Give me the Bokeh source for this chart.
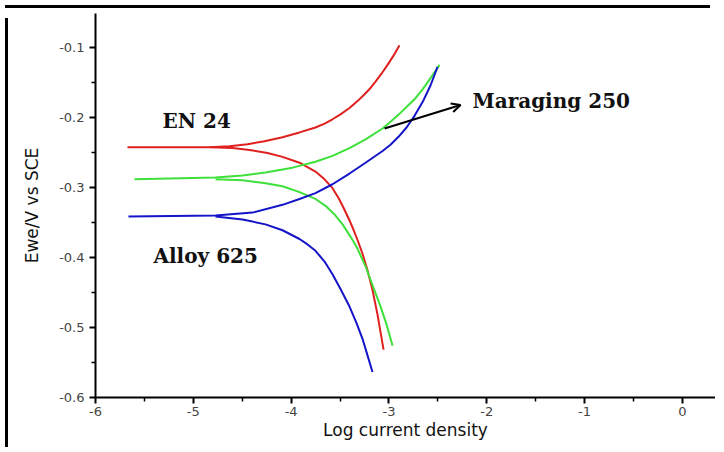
from bokeh.plotting import figure
from bokeh.models import Range1d, FixedTicker, Label, Arrow, OpenHead, CustomJSTickFormatter, Div
from bokeh.layouts import column, row
from bokeh.embed import file_html
from bokeh.resources import INLINE

# ---- data (log current density, potential V vs SCE) ----
en24_anodic_x = [-5.673, -4.834, -4.630, -4.446, -4.272, -4.088, -3.914, -3.751, -3.658, -3.577,
                 -3.495, -3.403, -3.321, -3.249, -3.188, -3.137, -3.076, -3.014, -2.953, -2.892]
en24_anodic_y = [-0.2425, -0.2425, -0.2411, -0.2383, -0.2341, -0.2285, -0.2215, -0.2145, -0.2089, -0.2027,
                 -0.1957, -0.1866, -0.1768, -0.1670, -0.1580, -0.1489, -0.1377, -0.1251, -0.1119, -0.0972]
en24_cathodic_x = [-4.834, -4.599, -4.425, -4.241, -4.088, -3.914, -3.751, -3.658, -3.577, -3.515,
                   -3.464, -3.403, -3.362, -3.321, -3.270, -3.219, -3.168, -3.117, -3.055]
en24_cathodic_y = [-0.2425, -0.2439, -0.2466, -0.2508, -0.2564, -0.2648, -0.2774, -0.2885, -0.3011, -0.3151,
                   -0.3291, -0.3472, -0.3605, -0.3751, -0.3947, -0.4184, -0.4464, -0.4813, -0.5316]

mar_anodic_x = [-5.601, -4.773, -4.497, -4.262, -3.986, -3.751, -3.577, -3.403, -3.239, -3.065,
                -2.984, -2.892, -2.810, -2.728, -2.656, -2.585, -2.524, -2.483]
mar_anodic_y = [-0.2885, -0.2858, -0.2830, -0.2788, -0.2718, -0.2634, -0.2550, -0.2439, -0.2313, -0.2159,
                -0.2061, -0.1950, -0.1838, -0.1726, -0.1601, -0.1461, -0.1335, -0.1251]
mar_cathodic_x = [-4.773, -4.497, -4.262, -4.088, -3.914, -3.751, -3.648, -3.546, -3.474, -3.403,
                  -3.362, -3.321, -3.280, -3.239, -3.168, -3.096, -3.025, -2.963]
mar_cathodic_y = [-0.2885, -0.2899, -0.2941, -0.2983, -0.3067, -0.3165, -0.3263, -0.3402, -0.3528, -0.3682,
                  -0.3772, -0.3877, -0.4003, -0.4128, -0.4394, -0.4659, -0.4953, -0.5260]

al_anodic_x = [-5.663, -4.773, -4.395, -4.088, -3.914, -3.751, -3.577, -3.403, -3.239, -3.065,
               -2.984, -2.902, -2.820, -2.738, -2.656, -2.575, -2.503]
al_anodic_y = [-0.3416, -0.3402, -0.3360, -0.3249, -0.3165, -0.3081, -0.2955, -0.2802, -0.2648, -0.2480,
               -0.2390, -0.2278, -0.2145, -0.1978, -0.1782, -0.1545, -0.1279]
al_cathodic_x = [-4.773, -4.497, -4.262, -4.088, -3.914, -3.832, -3.751, -3.658, -3.577, -3.495,
                 -3.403, -3.331, -3.270, -3.219, -3.168]
al_cathodic_y = [-0.3416, -0.3458, -0.3528, -0.3612, -0.3737, -0.3814, -0.3905, -0.4059, -0.4240, -0.4450,
                 -0.4701, -0.4939, -0.5162, -0.5399, -0.5637]

x_major = [-6, -5, -4, -3, -2, -1, 0]
x_minor = [-5.5, -4.5, -3.5, -2.5, -1.5, -0.5]
y_major = [-0.6, -0.5, -0.4, -0.3, -0.2, -0.1]
y_minor = [-0.55, -0.45, -0.35, -0.25, -0.15]

labels_text = ["EN 24", "Maraging 250", "Alloy 625"]
labels_x = [-5.315, -2.145, -5.407]
labels_y = [-0.2047, -0.1768, -0.3975]

arrow_start = (-3.045, -0.2159)
arrow_end = (-2.268, -0.1824)

RED = "#e0201e"
GREEN = "#3ee03a"
BLUE = "#1414c8"

p = figure(width=702, height=429, output_backend="svg", toolbar_location=None,
           x_range=Range1d(-6, 0.339), y_range=Range1d(-0.6, -0.0517),
           min_border_left=82, min_border_right=0, min_border_top=0, min_border_bottom=43)
p.outline_line_color = None
p.xgrid.visible = False
p.ygrid.visible = False
p.background_fill_color = "white"
p.border_fill_color = "white"

for ax in (p.xaxis[0], p.yaxis[0]):
    ax.axis_line_width = 2
    ax.major_tick_line_width = 2
    ax.minor_tick_line_width = 1.5
    ax.major_tick_in = 0
    ax.major_tick_out = 6
    ax.minor_tick_in = 0
    ax.minor_tick_out = 4
    ax.major_label_text_font = "DejaVu Sans"
    ax.major_label_text_font_size = "13px"
    ax.major_label_text_color = "#444444"
    ax.axis_label_text_font = "DejaVu Sans"
    ax.axis_label_text_font_size = "17px"
    ax.axis_label_text_font_style = "normal"
    ax.axis_label_text_color = "#111111"

p.xaxis.ticker = FixedTicker(ticks=x_major, minor_ticks=x_minor)
p.yaxis.ticker = FixedTicker(ticks=y_major, minor_ticks=y_minor)
p.xaxis.formatter = CustomJSTickFormatter(code="return tick.toFixed(0);")
p.yaxis.formatter = CustomJSTickFormatter(code="return tick.toFixed(1);")
p.xaxis.major_label_standoff = 3
p.xaxis.axis_label = "Log current density"
p.yaxis.axis_label = "Ewe/V vs SCE"
p.xaxis.axis_label_standoff = 1
p.yaxis.axis_label_standoff = 14

lw = 2
p.line(en24_anodic_x, en24_anodic_y, line_color=RED, line_width=lw)
p.line(en24_cathodic_x, en24_cathodic_y, line_color=RED, line_width=lw)
p.line(mar_anodic_x, mar_anodic_y, line_color=GREEN, line_width=lw)
p.line(mar_cathodic_x, mar_cathodic_y, line_color=GREEN, line_width=lw)
p.line(al_anodic_x, al_anodic_y, line_color=BLUE, line_width=lw)
p.line(al_cathodic_x, al_cathodic_y, line_color=BLUE, line_width=lw)

for t, lx, ly in zip(labels_text, labels_x, labels_y):
    p.add_layout(Label(x=lx, y=ly, text=t, text_font="DejaVu Serif", text_font_style="bold",
                       text_font_size="20px", text_color="#111111", text_baseline="middle",
                       text_align="left"))

p.add_layout(Arrow(end=OpenHead(size=9, line_width=2, line_color="black"),
                   x_start=arrow_start[0], y_start=arrow_start[1],
                   x_end=arrow_end[0], y_end=arrow_end[1],
                   line_width=2, line_color="black"))

# black frame line along the left and top edges of the picture
top_bar = Div(text="", width=705, height=3,
              styles={"background-color": "black", "overflow": "hidden"})
left_bar = Div(text="", width=3, height=429,
               styles={"background-color": "black", "overflow": "hidden"})
inner = row(left_bar, p, spacing=0, styles={"overflow": "hidden"})
page = column(top_bar, inner, spacing=0, styles={"overflow": "hidden"})

open("out.html", "w").write(file_html(page, INLINE))
